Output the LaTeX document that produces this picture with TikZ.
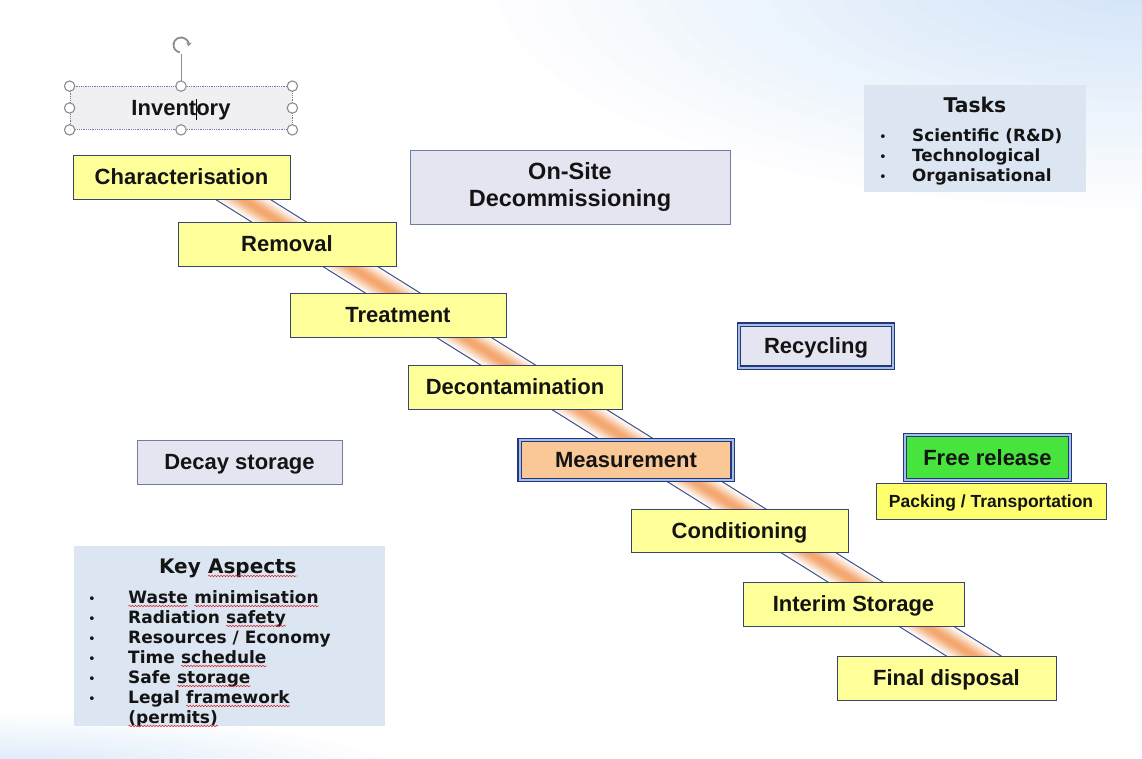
\documentclass[tikz,border=0pt]{standalone}
\usepackage{fontspec}
\setmainfont{Liberation Sans}
\newfontfamily\verdfont{DejaVu Sans}
\usetikzlibrary{decorations.pathmorphing, arrows.meta}

\definecolor{boxyellow}{RGB}{255,255,153}
\definecolor{boxline}{RGB}{55,70,105}
\definecolor{lav}{RGB}{229,229,241}
\definecolor{lavline}{RGB}{110,125,165}
\definecolor{peach}{RGB}{250,200,150}
\definecolor{relgreen}{RGB}{70,228,60}
\definecolor{packyellow}{RGB}{255,255,110}
\definecolor{panel}{RGB}{220,230,242}
\definecolor{navy}{RGB}{35,55,125}
\definecolor{dblgap}{RGB}{165,190,230}
\definecolor{bandor}{RGB}{244,168,112}
\definecolor{bandedge}{RGB}{55,75,140}
\definecolor{bgblue}{RGB}{208,226,248}
\definecolor{handlegray}{RGB}{140,140,140}
\definecolor{spellred}{RGB}{215,40,40}
\definecolor{txt}{RGB}{20,20,20}
\definecolor{invfill}{RGB}{240,240,242}

\newcommand\wavy[1]{\tikz[baseline=(w.base)]{\node[inner sep=0pt,outer sep=0pt] (w) {#1};\draw[spellred,line width=0.55pt,decorate,decoration={snake,amplitude=0.75pt,segment length=3pt}] ([yshift=-3pt]w.base west) -- ([yshift=-3pt]w.base east);}}
\newcommand\blt[1]{\makebox[#1][l]{\mdseries\fontsize{13}{13}\selectfont\textbullet}}

\tikzset{
  lbl/.style={font=\bfseries\fontsize{22}{26}\selectfont, text=txt, text height=15.8pt, text depth=0.6pt, inner sep=0pt},
  stepbox/.style={lbl, draw=boxline, line width=0.9pt, fill=boxyellow, minimum height=44pt},
  greybox/.style={draw=lavline, line width=0.9pt, fill=lav},
  dblbox/.style={draw=navy, line width=1.1pt, double=dblgap, double distance=2pt},
  panelbox/.style={fill=panel, draw=none, inner sep=0pt},
  ttl/.style={inner sep=0pt, anchor=base, text=txt},
  item/.style={inner sep=0pt, anchor=base west, text=txt},
  handle/.style={draw=handlegray, line width=1.1pt, fill=white},
}

\begin{document}
\begin{tikzpicture}[x=1pt, y=-1pt]
\useasboundingbox (0,0) rectangle (1142,759);
% slide background
\begin{scope}
\clip (0,0) rectangle (1142,759);
\fill[white] (0,0) rectangle (1142,759);
\foreach \i in {20,...,1} {
  \pgfmathtruncatemacro\p{100-5*\i}
  \fill[bgblue!\p!white] (1142,-20) ellipse [x radius=34*\i, y radius=12*\i];
  \fill[bgblue!\p!white] (-10,782) ellipse [x radius=22*\i, y radius=3.6*\i];
}
\end{scope}

% diagonal band
\coordinate (bandA) at (207,177);
\coordinate (bandB) at (1009,678);
\draw[bandedge, line width=30pt] (bandA) -- (bandB);
\foreach \w/\p in {27.8/6, 26/12, 24/20, 22/28, 20/36, 18/45, 16/54, 14/63, 12/72, 10/80, 8/87, 6/93, 4/100}
  \draw[bandor!\p!white, line width=\w pt] (bandA) -- (bandB);

% inventory (selected text box)
\node[lbl, draw=lavline, densely dotted, line width=0.8pt, fill=invfill, minimum width=222pt, minimum height=43pt] (inv) at (181,108)
  {Invent\makebox[0pt]{\color{black}\rule[-4pt]{0.8pt}{21pt}}ory};
\coordinate (rotc) at (181,45);
\coordinate (rotb) at (181,54);
\draw[handlegray, line width=1pt] (inv.north) -- (rotb);
\foreach \a in {north west,north,north east,west,east,south west,south,south east}
  \draw[handle] (inv.\a) circle[radius=5.2];
\draw[handlegray, line width=1.8pt, -{Stealth[length=4pt,width=5.5pt]}] (rotc) ++(100:7.5) arc[start angle=100, end angle=370, radius=7.5];

% process steps
\node[stepbox, minimum width=217pt] (char) at (181.5,177) {Characterisation};
\node[stepbox, minimum width=218pt] (removal) at (287,244) {Removal};
\node[stepbox, minimum width=216pt] (treat) at (398,315) {Treatment};
\node[stepbox, minimum width=214pt] (decon) at (515,387) {Decontamination};
\node[dblbox, lbl, fill=peach, minimum width=213pt, minimum height=40pt] (meas) at (626,460) {Measurement};
\node[stepbox, minimum width=217pt, minimum height=43pt] (cond) at (739.5,530.5) {Conditioning};
\node[stepbox, minimum width=221pt] (interim) at (853.5,604) {Interim Storage};
\node[stepbox, minimum width=219pt] (final) at (946.5,678) {Final disposal};

% other boxes
\node[greybox, inner sep=0pt, align=center, text=txt, font=\bfseries\fontsize{23.5}{27}\selectfont, minimum width=320pt, minimum height=74pt] (onsite) at (570,187) {On-Site\\Decommissioning};
\node[greybox, dblbox, lbl, fill=lav, minimum width=154pt, minimum height=43pt] (recyc) at (816,346) {Recycling};
\node[greybox, lbl, minimum width=205pt, minimum height=44pt] (decay) at (239.5,462) {Decay storage};
\node[draw=boxline, line width=0.9pt, fill=packyellow, inner sep=0pt, text=txt, font=\bfseries\fontsize{17.5}{20}\selectfont, text height=12.6pt, text depth=0.5pt, minimum width=230pt, minimum height=36pt] (pack) at (991,501) {Packing / Transportation};
\node[dblbox, lbl, fill=relgreen, minimum width=165pt, minimum height=45pt] (free) at (987.5,457.5) {Free release};

% tasks panel
\node[panelbox, minimum width=222pt, minimum height=107pt] (tasks) at (975,138.5) {};
\node[ttl, font=\verdfont\bfseries\fontsize{20.3}{24}\selectfont] (taskt) at (975,113) {Tasks};
\begin{scope}[every node/.append style={font=\verdfont\bfseries\fontsize{16.8}{20}\selectfont}]
\node[item] (t1) at (879,142) {\blt{33pt}Scientific (R\&D)};
\node[item] (t2) at (879,162) {\blt{33pt}Technological};
\node[item] (t3) at (879,182) {\blt{33pt}Organisational};
\end{scope}

% key aspects panel
\node[panelbox, minimum width=311pt, minimum height=180pt] (key) at (229.5,636) {};
\node[ttl, font=\verdfont\bfseries\fontsize{20}{24}\selectfont] (keyt) at (228,573) {Key \wavy{Aspects}};
\begin{scope}[every node/.append style={font=\verdfont\bfseries\fontsize{17}{20}\selectfont}]
\node[item] (k1) at (88,603) {\blt{40pt}\wavy{Waste} \wavy{minimisation}};
\node[item] (k2) at (88,623) {\blt{40pt}Radiation \wavy{safety}};
\node[item] (k3) at (88,643) {\blt{40pt}Resources / Economy};
\node[item] (k4) at (88,663) {\blt{40pt}Time \wavy{schedule}};
\node[item] (k5) at (88,683) {\blt{40pt}Safe \wavy{storage}};
\node[item] (k6) at (88,703) {\blt{40pt}Legal \wavy{framework}};
\node[item] (k7) at (128,723) {\wavy{(permits)}};
\end{scope}
\end{tikzpicture}
\end{document}
